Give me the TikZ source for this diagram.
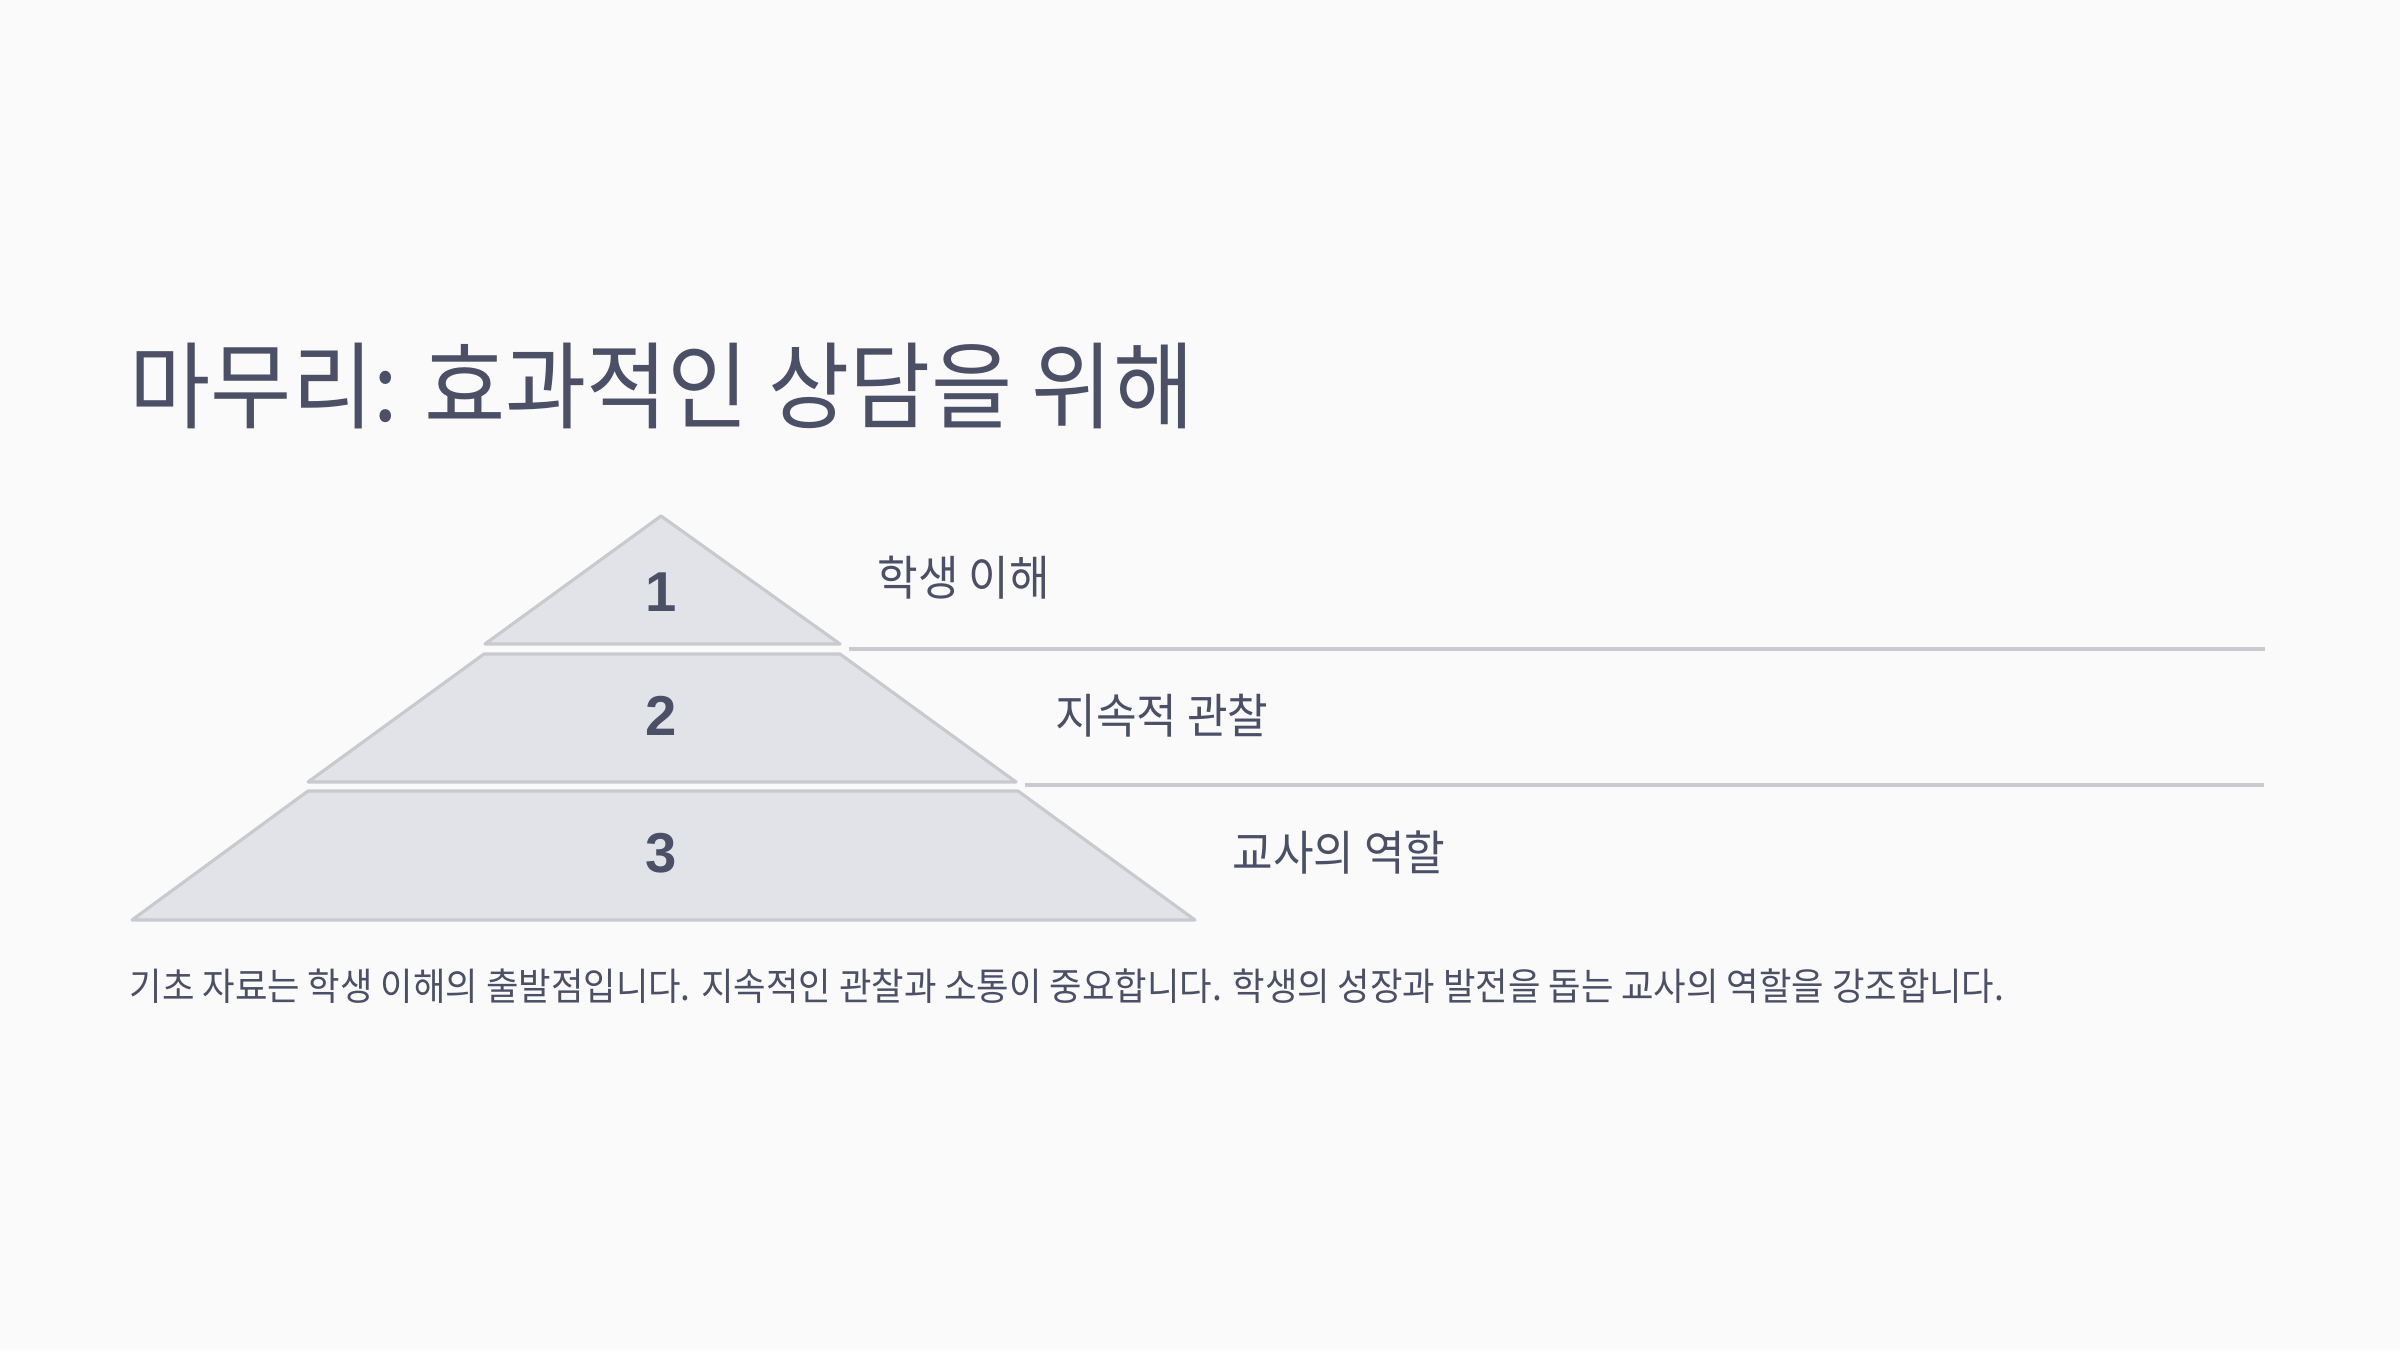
\documentclass[tikz,border=0pt]{standalone}
\usepackage{fontspec}
\setmainfont{Noto Sans CJK KR}[FakeStretch=0.93]
\newfontfamily\numfont{Liberation Sans}
\definecolor{inkcol}{HTML}{4B5066}
\definecolor{tiercol}{HTML}{E2E3E8}
\definecolor{edgecol}{HTML}{C9CAD0}
\definecolor{pagecol}{HTML}{FAFAFB}
\tikzset{
  tier/.style={fill=tiercol, draw=edgecol, line width=0.9pt, line join=round},
  rule/.style={draw=edgecol, line width=0.9pt},
  tiernum/.style={text=inkcol, font=\numfont\bfseries\fontsize{16}{19}\selectfont},
  tierlabel/.style={anchor=west, inner sep=0pt, text=inkcol, font=\fontsize{13.5}{16}\selectfont},
}

\begin{document}
\begin{tikzpicture}

\fill[pagecol] (0.0, 0.0) rectangle (24.0, 13.5);
\useasboundingbox (0.0, 0.0) rectangle (24.0, 13.5);

\node[anchor=west, inner sep=0pt, text=inkcol, font=\fontsize{27}{32}\selectfont] (title) at (1.29, 9.64) {마무리: 효과적인 상담을 위해};

\draw[tier] (6.61, 8.34) -- (8.40, 7.06) -- (4.85, 7.06) -- cycle;
\node[tiernum] (n1) at (6.61, 7.58) {1};
\draw[tier] (4.84, 6.96) -- (8.40, 6.96) -- (10.16, 5.68) -- (3.08, 5.68) -- cycle;
\node[tiernum] (n2) at (6.61, 6.34) {2};
\draw[tier] (3.08, 5.59) -- (10.18, 5.59) -- (11.95, 4.30) -- (1.32, 4.30) -- cycle;
\node[tiernum] (n3) at (6.61, 4.97) {3};

\draw[rule] (8.49, 7.01) -- (22.65, 7.01);
\draw[rule] (10.25, 5.65) -- (22.64, 5.65);

\node[tierlabel] (l1) at (8.77, 7.72) {학생 이해};
\node[tierlabel] (l2) at (10.55, 6.34) {지속적 관찰};
\node[tierlabel] (l3) at (12.32, 4.97) {교사의 역할};

\node[anchor=west, inner sep=0pt, text=inkcol, font=\fontsize{10.8}{13}\selectfont] (summary) at (1.29, 3.64) {기초 자료는 학생 이해의 출발점입니다. 지속적인 관찰과 소통이 중요합니다. 학생의 성장과 발전을 돕는 교사의 역할을 강조합니다.};

\end{tikzpicture}
\end{document}
